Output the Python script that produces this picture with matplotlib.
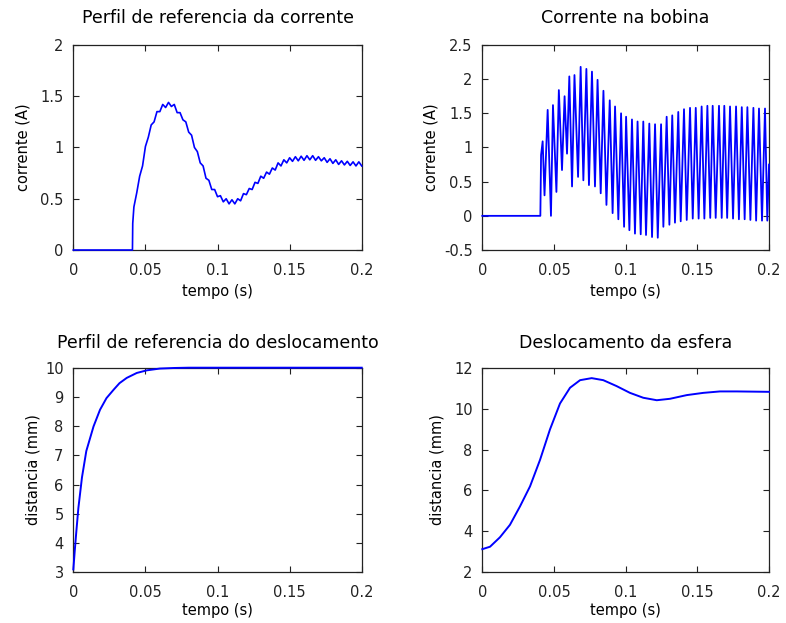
import numpy as np
import matplotlib
matplotlib.use('Agg')
import matplotlib.pyplot as plt
from matplotlib.ticker import FormatStrFormatter

# reference current profile (A), small ripple included
ref_i_t = [0, 0.0410, 0.0412, 0.042, 0.044, 0.046, 0.048, 0.050, 0.052, 0.054, 0.056,
           0.058, 0.060, 0.062, 0.064, 0.066, 0.068, 0.070, 0.072, 0.074, 0.076,
           0.078, 0.080, 0.082, 0.084, 0.086, 0.088, 0.090, 0.092, 0.094, 0.096,
           0.098, 0.100, 0.102, 0.104, 0.106, 0.108, 0.110, 0.112, 0.114, 0.116,
           0.118, 0.120, 0.122, 0.124, 0.126, 0.128, 0.130, 0.132, 0.134, 0.136,
           0.138, 0.140, 0.142, 0.144, 0.146, 0.148, 0.150, 0.152, 0.154, 0.156,
           0.158, 0.160, 0.162, 0.164, 0.166, 0.168, 0.170, 0.172, 0.174, 0.176,
           0.178, 0.180, 0.182, 0.184, 0.186, 0.188, 0.190, 0.192, 0.194, 0.196,
           0.198, 0.200]
ref_i = [0, 0, 0.26, 0.42, 0.56, 0.72, 0.82, 1.01, 1.10, 1.22, 1.25,
         1.35, 1.35, 1.42, 1.39, 1.44, 1.40, 1.42, 1.34, 1.34, 1.27,
         1.25, 1.15, 1.12, 1.00, 0.96, 0.85, 0.82, 0.70, 0.68, 0.59,
         0.59, 0.52, 0.53, 0.47, 0.50, 0.45, 0.49, 0.45, 0.50, 0.48,
         0.55, 0.54, 0.60, 0.59, 0.66, 0.65, 0.72, 0.70, 0.76, 0.74,
         0.80, 0.78, 0.85, 0.82, 0.88, 0.85, 0.90, 0.865, 0.91, 0.87,
         0.915, 0.875, 0.92, 0.88, 0.92, 0.875, 0.91, 0.87, 0.90, 0.855,
         0.89, 0.845, 0.88, 0.835, 0.87, 0.83, 0.865, 0.825, 0.86, 0.82,
         0.86, 0.82]

# measured coil current (A): peaks and troughs of the switching ripple
coil_t = [0, 0.0405, 0.0410, 0.0421, 0.0434, 0.0456, 0.0479, 0.0493, 0.0517, 0.0534,
          0.0556, 0.0574, 0.0591, 0.0607, 0.0626, 0.0643, 0.0668, 0.0686, 0.0705,
          0.0726, 0.0744, 0.0765, 0.0786, 0.0804, 0.0826, 0.0845, 0.0866, 0.0889,
          0.0909, 0.0926, 0.0949, 0.0968, 0.0989, 0.1003, 0.1026, 0.1044, 0.1065,
          0.1083, 0.1105, 0.1123, 0.1142, 0.1165, 0.1184, 0.1205, 0.1224, 0.1247,
          0.1263, 0.1286, 0.1305, 0.1325, 0.1344, 0.1367, 0.1384, 0.1407, 0.1426,
          0.1449, 0.1468, 0.1489, 0.1509, 0.1530, 0.1549, 0.1570, 0.1590, 0.1607,
          0.1628, 0.1651, 0.1670, 0.1688, 0.1708, 0.1728, 0.1749, 0.1770, 0.1790,
          0.1810, 0.1830, 0.1849, 0.1870, 0.1891, 0.1910, 0.1930, 0.1951, 0.1972,
          0.1988, 0.2000]
coil_i = [0, 0, 0.89, 1.09, 0.30, 1.55, 0.00, 1.62, 0.35, 1.84,
          0.67, 1.75, 0.91, 2.04, 0.43, 2.06, 0.57, 2.18, 0.52,
          2.15, 0.45, 2.11, 0.43, 1.99, 0.33, 1.83, 0.16, 1.69,
          0.04, 1.60, -0.05, 1.50, -0.16, 1.45, -0.21, 1.41, -0.26,
          1.38, -0.27, 1.38, -0.28, 1.35, -0.31, 1.34, -0.32, 1.34,
          -0.16, 1.45, -0.13, 1.47, -0.10, 1.52, -0.08, 1.56, -0.06,
          1.58, -0.04, 1.58, -0.04, 1.60, -0.04, 1.61, -0.03, 1.61,
          -0.03, 1.61, -0.03, 1.61, -0.03, 1.60, -0.04, 1.60, -0.05,
          1.59, -0.05, 1.59, -0.06, 1.58, -0.07, 1.57, -0.07, 1.57,
          -0.07, 0.75]

# reference displacement profile (mm)
ref_x_t = [0, 0.001, 0.002, 0.0035, 0.006, 0.009, 0.014, 0.0185, 0.023, 0.028,
           0.032, 0.037, 0.044, 0.051, 0.060, 0.070, 0.080, 0.100, 0.200]
ref_x = [3.1, 3.75, 4.35, 5.2, 6.25, 7.15, 7.99, 8.56, 8.96, 9.25,
         9.47, 9.65, 9.82, 9.91, 9.97, 9.99, 10.0, 10.0, 10.0]

# sphere displacement (mm)
ball_t = [0, 0.0054, 0.0123, 0.0193, 0.0263, 0.0333, 0.0403, 0.0472, 0.0542, 0.0612,
          0.0682, 0.0763, 0.0844, 0.0937, 0.1030, 0.1123, 0.1217, 0.1309, 0.1426,
          0.1542, 0.1658, 0.1775, 0.2000]
ball_x = [3.13, 3.25, 3.71, 4.32, 5.22, 6.20, 7.50, 8.98, 10.25, 11.02,
          11.39, 11.49, 11.39, 11.10, 10.77, 10.53, 10.41, 10.48, 10.66,
          10.77, 10.84, 10.84, 10.82]

t_ticks = [0, 0.05, 0.1, 0.15, 0.2]
yticks_ref_i = [0, 0.5, 1, 1.5, 2]
yticks_coil = [-0.5, 0, 0.5, 1, 1.5, 2, 2.5]
yticks_ref_x = [3, 4, 5, 6, 7, 8, 9, 10]
yticks_ball = [2, 4, 6, 8, 10, 12]

plt.rcParams['font.family'] = 'DejaVu Sans'
plt.rcParams['font.size'] = 10.5

fig = plt.figure(figsize=(7.86, 6.23), dpi=100)

# position, x, y, y ticks, title, y label, line width, title pad, x/y label pads
panels = [
    ([0.0933, 0.5987, 0.3669, 0.3291], ref_i_t, ref_i, yticks_ref_i,
     'Perfil de referencia da corrente', 'corrente (A)', 1.2, 15.5, 4.5, 7),
    ([0.6136, 0.5987, 0.3648, 0.3291], coil_t, coil_i, yticks_coil,
     'Corrente na bobina', 'corrente (A)', 1.3, 15.5, 4.5, 3.5),
    ([0.0933, 0.0814, 0.3669, 0.3284], ref_x_t, ref_x, yticks_ref_x,
     'Perfil de referencia do deslocamento', 'distancia (mm)', 1.4, 14, 2, 3.5),
    ([0.6136, 0.0814, 0.3648, 0.3284], ball_t, ball_x, yticks_ball,
     'Deslocamento da esfera', 'distancia (mm)', 1.4, 14, 2, 7),
]

for pos, t, y, yt, title, ylab, lw, tpad, xpad, ypad in panels:
    ax = fig.add_axes(pos)
    ax.plot(t, y, color='#0000ff', lw=lw, clip_on=False, zorder=3)
    ax.set_xlim(0, 0.2)
    ax.set_ylim(yt[0], yt[-1])
    ax.set_xticks(t_ticks)
    ax.set_yticks(yt)
    ax.xaxis.set_major_formatter(FormatStrFormatter('%g'))
    ax.yaxis.set_major_formatter(FormatStrFormatter('%g'))
    ax.tick_params(direction='in', top=True, right=True, length=4, width=0.8,
                   labelsize=10.5, colors='#222222')
    ax.tick_params(axis='x', pad=9)
    ax.tick_params(axis='y', pad=7)
    for s in ax.spines.values():
        s.set_linewidth(0.9)
        s.set_color('#222222')
    ax.set_title(title, fontsize=12.5, pad=tpad)
    ax.set_xlabel('tempo (s)', labelpad=xpad)
    ax.set_ylabel(ylab, labelpad=ypad)

fig.savefig('out.png', dpi=100)
